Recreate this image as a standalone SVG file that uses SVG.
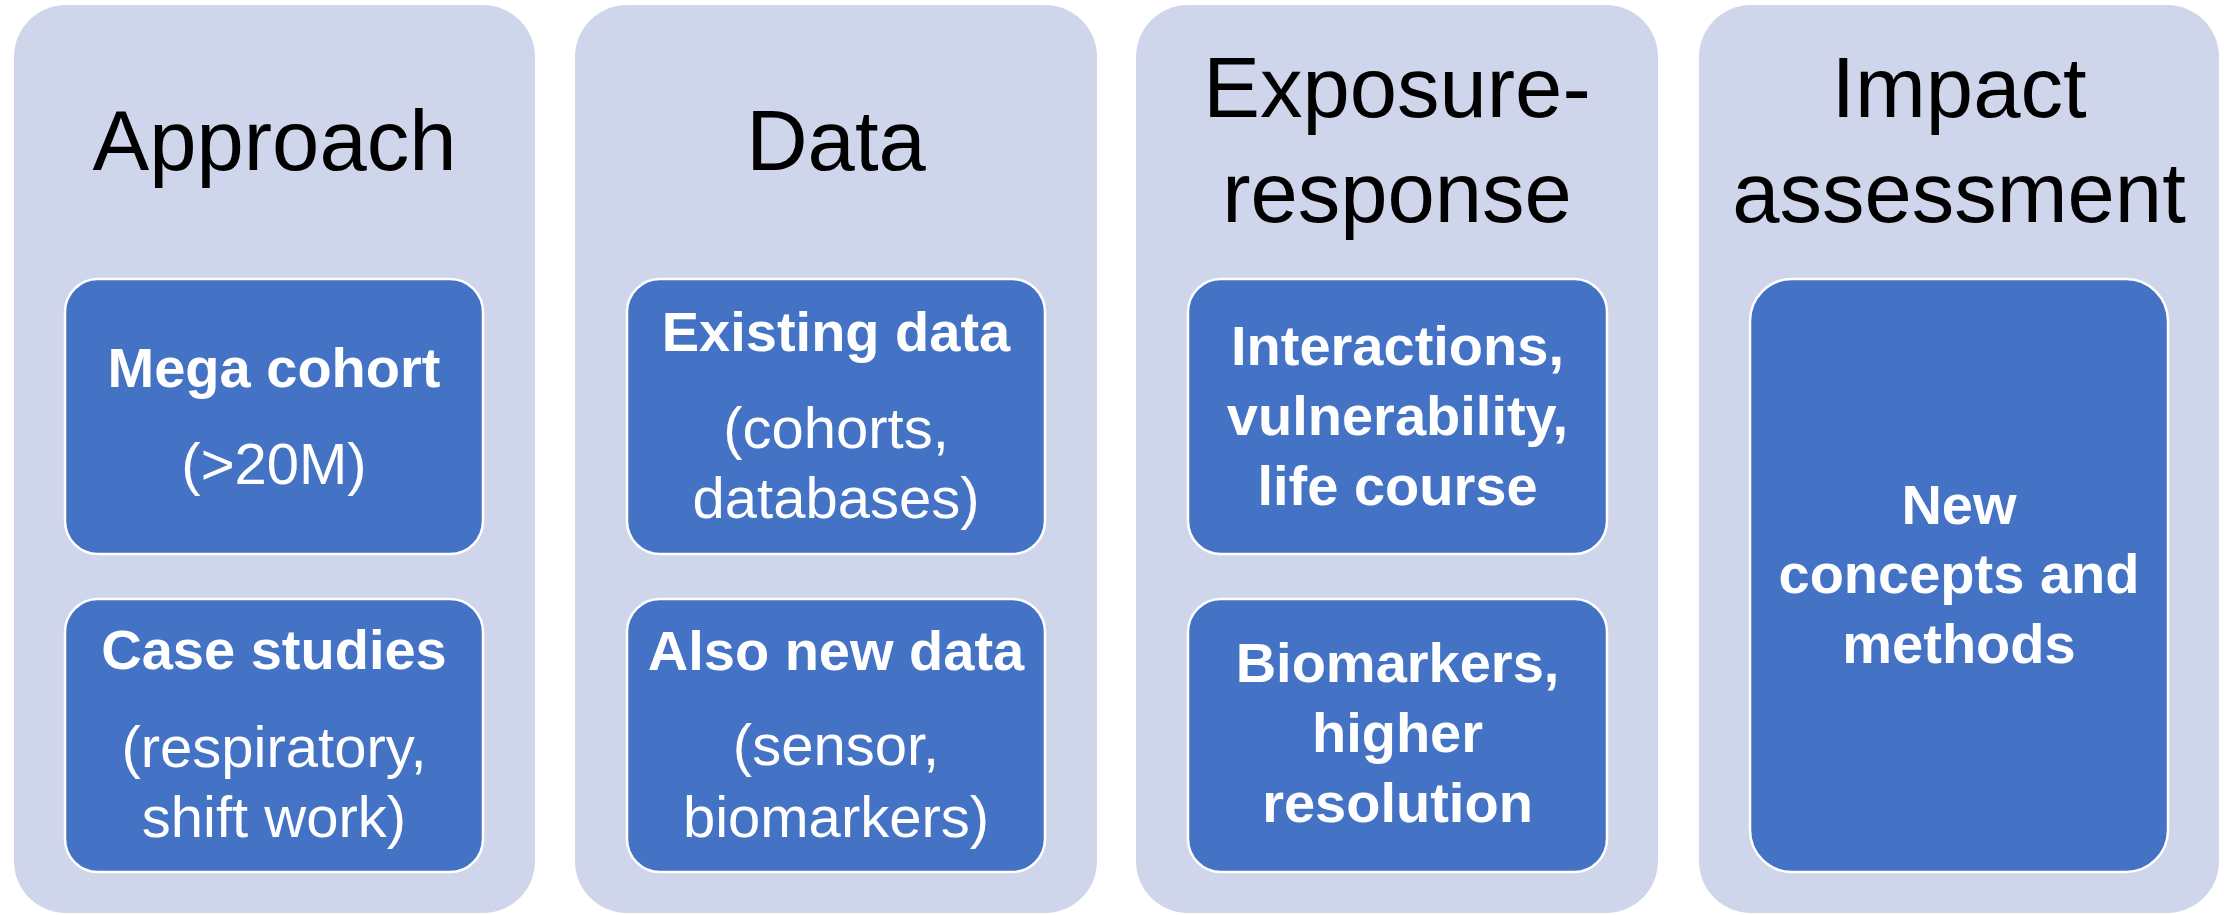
<svg xmlns="http://www.w3.org/2000/svg" width="2233" height="915" viewBox="0 0 2233 915">
<style>
.outer{fill:#CFD5EA}
.inner{fill:#4472C4;stroke:#FFFFFF;stroke-width:2.5}
.head{font-family:"Liberation Sans",Arial,sans-serif;font-size:85px;fill:#000000;text-anchor:middle}
.b{font-family:"Liberation Sans",Arial,sans-serif;font-size:56px;font-weight:bold;fill:#FFFFFF;text-anchor:middle}
.r{font-family:"Liberation Sans",Arial,sans-serif;font-size:58px;fill:#FFFFFF;text-anchor:middle}
</style>
<rect width="2233" height="915" fill="#FFFFFF"/>
<g id="col-approach">
<rect class="outer" x="14" y="5" width="521" height="908" rx="52" ry="52"/>
<text class="head" x="274.5" y="170">Approach</text>
</g>
<g id="node-mega-cohort">
<rect class="inner" x="65" y="279" width="418" height="275" rx="33" ry="33"/>
<text class="b" x="274" y="387">Mega cohort</text>
<text class="r" x="274" y="484">(&gt;20M)</text>
</g>
<g id="node-case-studies">
<rect class="inner" x="65" y="599" width="418" height="273" rx="33" ry="33"/>
<text class="b" x="274" y="669">Case studies</text>
<text class="r" x="274" y="767">(respiratory,</text>
<text class="r" x="274" y="837">shift work)</text>
</g>
<g id="col-data">
<rect class="outer" x="575" y="5" width="522" height="908" rx="52" ry="52"/>
<text class="head" x="836" y="170">Data</text>
</g>
<g id="node-existing-data">
<rect class="inner" x="627" y="279" width="418" height="275" rx="33" ry="33"/>
<text class="b" x="836" y="351">Existing data</text>
<text class="r" x="836" y="448">(cohorts,</text>
<text class="r" x="836" y="518">databases)</text>
</g>
<g id="node-new-data">
<rect class="inner" x="627" y="599" width="418" height="273" rx="33" ry="33"/>
<text class="b" x="836" y="670">Also new data</text>
<text class="r" x="836" y="765">(sensor,</text>
<text class="r" x="836" y="837">biomarkers)</text>
</g>
<g id="col-exposure-response">
<rect class="outer" x="1136" y="5" width="522" height="908" rx="52" ry="52"/>
<text class="head" x="1397" y="117">Exposure-</text>
<text class="head" x="1397" y="222">response</text>
</g>
<g id="node-interactions">
<rect class="inner" x="1188" y="279" width="419" height="275" rx="33" ry="33"/>
<text class="b" x="1397.5" y="365">Interactions,</text>
<text class="b" x="1397.5" y="435">vulnerability,</text>
<text class="b" x="1397.5" y="505">life course</text>
</g>
<g id="node-biomarkers">
<rect class="inner" x="1188" y="599" width="419" height="273" rx="33" ry="33"/>
<text class="b" x="1397.5" y="682">Biomarkers,</text>
<text class="b" x="1397.5" y="752">higher</text>
<text class="b" x="1397.5" y="822">resolution</text>
</g>
<g id="col-impact">
<rect class="outer" x="1699" y="5" width="520" height="908" rx="52" ry="52"/>
<text class="head" x="1959" y="117">Impact</text>
<text class="head" x="1959" y="222">assessment</text>
</g>
<g id="node-new-concepts">
<rect class="inner" x="1750" y="279" width="418" height="593" rx="42" ry="42"/>
<text class="b" x="1959" y="524">New</text>
<text class="b" x="1959" y="593">concepts and</text>
<text class="b" x="1959" y="663">methods</text>
</g>
<g id="connectors"></g>
</svg>
